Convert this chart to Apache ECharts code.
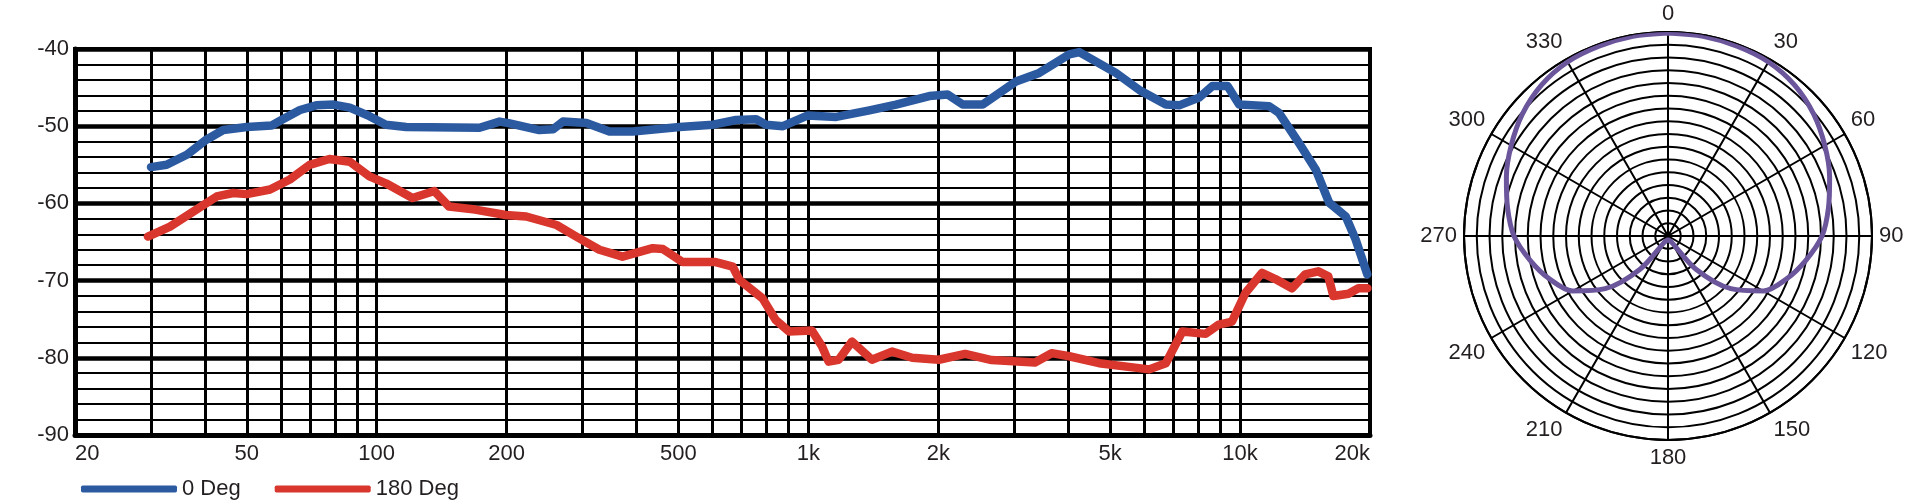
<!DOCTYPE html>
<html><head><meta charset="utf-8">
<script src="https://cdn.jsdelivr.net/npm/echarts@6/dist/echarts.min.js"></script>
<style>html,body{margin:0;padding:0;background:#fff}#c{width:1920px;height:504px}</style>
</head><body><div id="c"></div>
<script>
// ---- data ----
const freq0 = [30, 32.6, 36.3, 40.3, 44.1, 50, 57.1, 60.6, 66.4, 72.4, 79.4, 86.6, 96.2, 105, 117, 173, 192.6, 202, 238, 256, 270, 306, 346, 392, 503, 601, 680, 757, 798, 873, 997, 1160, 1385, 1596, 1906, 2102, 2278, 2534, 3026, 3426, 4021, 4242, 5155, 5840, 6731, 7226, 8038, 8630, 9354, 9951, 11675, 12316, 13700, 14970, 16080, 17575, 18530, 19715];
const db0 = [-55.3, -55.0, -53.7, -51.75, -50.5, -50.1, -49.9, -49.1, -47.9, -47.3, -47.2, -47.6, -48.7, -49.8, -50.1, -50.2, -49.4, -49.6, -50.5, -50.4, -49.4, -49.6, -50.7, -50.7, -50.1, -49.8, -49.2, -49.1, -49.8, -50.0, -48.6, -48.8, -47.95, -47.2, -46.1, -45.9, -47.2, -47.2, -44.2, -43.1, -40.7, -40.4, -43.1, -45.3, -47.2, -47.3, -46.3, -44.8, -44.8, -47.2, -47.4, -48.3, -52.2, -55.6, -59.9, -61.7, -64.7, -69.2];
const freq180 = [29.5, 33.2, 38.2, 42.6, 46.5, 50, 56.6, 62.9, 69.9, 77.7, 86.6, 96.2, 105, 121, 136, 147, 169, 199, 222, 261, 290, 328, 371, 436, 460, 511, 610, 668, 692, 783, 840, 902, 1018, 1075, 1114, 1175, 1262, 1403, 1562, 1740, 2005, 2308, 2658, 3348, 3660, 4021, 4715, 6156, 6731, 7350, 8320, 8930, 9580, 10290, 11240, 12070, 13190, 14150, 15180, 16010, 16450, 17830, 18800, 19720];
const db180 = [-64.3, -63.0, -60.8, -59.1, -58.65, -58.8, -58.2, -56.9, -55.0, -54.25, -54.6, -56.5, -57.4, -59.3, -58.4, -60.4, -60.8, -61.5, -61.7, -62.8, -64.3, -66.0, -66.9, -65.8, -65.9, -67.6, -67.6, -68.2, -69.9, -72.3, -75.1, -76.6, -76.45, -78.5, -80.5, -80.25, -77.9, -80.25, -79.2, -80.0, -80.25, -79.5, -80.3, -80.6, -79.4, -79.8, -80.7, -81.5, -80.7, -76.6, -76.9, -75.7, -75.3, -71.6, -69.0, -69.8, -71.0, -69.2, -68.8, -69.45, -72.0, -71.7, -71.0, -71.0];
const xLabelFreqs = [20, 50, 100, 200, 500, 1000, 2000, 5000, 10000, 20000];
const xLabelTexts = ['20', '50', '100', '200', '500', '1k', '2k', '5k', '10k', '20k'];
const xGridFreqs = [30, 40, 50, 60, 70, 80, 90, 100, 200, 300, 400, 500, 600, 700, 800, 900, 1000, 2000, 3000, 4000, 5000, 6000, 7000, 8000, 9000, 10000];
const polarAngles = [0, 10, 20, 30, 40, 50, 60, 70, 80, 90, 100, 110, 120, 130, 140, 150, 160, 170, 180, 190, 200, 210, 220, 230, 240, 250, 260, 270, 280, 290, 300, 310, 320, 330, 340, 350, 360];
const polarRadii = [15.92, 15.9, 15.84, 15.76, 15.45, 14.9, 14.2, 13.49, 12.78, 12.08, 10.98, 9.88, 8.63, 6.43, 3.37, 0.55, 0.39, 0.31, 0.31, 0.31, 0.39, 0.55, 3.37, 6.43, 8.63, 9.88, 10.98, 12.08, 12.78, 13.49, 14.2, 14.9, 15.45, 15.76, 15.84, 15.9, 15.92];
const seriesNames = ['0 Deg', '180 Deg'];

// ---- chart ----
const lg = Math.log10;
const FONT = "'Liberation Sans', Arial, sans-serif";
const TXT = '#231f20';
const chart = echarts.init(document.getElementById('c'), null, {renderer: 'canvas'});
const toPts = (fs, ds) => fs.map((f, i) => [lg(f), ds[i]]);
chart.setOption({
  animation: false,
  backgroundColor: '#fff',
  grid: {left: 75, right: 550, top: 49, bottom: 69, show: true, borderColor: '#000', borderWidth: 4, backgroundColor: 'transparent'},
  legend: {
    left: 76, top: 473, itemWidth: 96, itemHeight: 7, itemGap: 34, icon: 'roundRect',
    data: seriesNames,
    textStyle: {fontFamily: FONT, fontSize: 22, color: TXT}
  },
  xAxis: [{
    type: 'value', min: lg(20), max: lg(20000),
    axisLine: {show: true, lineStyle: {color: '#000', width: 5}},
    axisTick: {show: false, customValues: xGridFreqs.map(lg)},
    splitLine: {show: true, lineStyle: {color: '#000', width: 3}},
    axisLabel: {
      customValues: xLabelFreqs.map(lg),
      alignMinLabel: 'left', alignMaxLabel: 'right',
      margin: 8, fontFamily: FONT, fontSize: 22, color: TXT,
      formatter: v => { const i = xLabelFreqs.findIndex(f => Math.abs(lg(f) - v) < 1e-6); return i >= 0 ? xLabelTexts[i] : ''; }
    }
  }],
  yAxis: [{
    type: 'value', position: 'left', min: -90, max: -40, interval: 2,
    axisLine: {show: false}, axisTick: {show: false}, axisLabel: {show: false},
    splitLine: {show: true, lineStyle: {color: '#000', width: 2}}
  }, {
    type: 'value', position: 'left', min: -90, max: -40, interval: 10,
    axisLine: {show: true, lineStyle: {color: '#000', width: 5}}, axisTick: {show: false},
    axisLabel: {margin: 6, fontFamily: FONT, fontSize: 22, color: TXT},
    splitLine: {show: true, lineStyle: {color: '#000', width: 4.5}}
  }],
  polar: {center: [1668, 236], radius: 204},
  angleAxis: {
    type: 'value', min: 0, max: 360, interval: 30, startAngle: 90, clockwise: true,
    axisLine: {show: true, lineStyle: {color: '#000', width: 2}},
    axisTick: {show: false},
    splitLine: {show: true, lineStyle: {color: '#000', width: 2}},
    axisLabel: {margin: 7, fontFamily: FONT, fontSize: 22, color: TXT}
  },
  radiusAxis: {
    type: 'value', min: 0, max: 16, interval: 1,
    axisLine: {show: false}, axisTick: {show: false}, axisLabel: {show: false},
    splitLine: {show: true, lineStyle: {color: '#000', width: 2}}
  },
  series: [{
    name: seriesNames[0], type: 'line', xAxisIndex: 0, yAxisIndex: 0, z: 5,
    data: toPts(freq0, db0), showSymbol: false, symbol: 'none',
    color: '#2c5aa0', lineStyle: {color: '#2c5aa0', width: 8.5, cap: 'round', join: 'round'}
  }, {
    name: seriesNames[1], type: 'line', xAxisIndex: 0, yAxisIndex: 0, z: 5,
    data: toPts(freq180, db180), showSymbol: false, symbol: 'none',
    color: '#d9362d', lineStyle: {color: '#d9362d', width: 8.5, cap: 'round', join: 'round'}
  }, {
    name: 'polar', type: 'line', coordinateSystem: 'polar', z: 5,
    data: polarAngles.map((a, i) => [polarRadii[i], a]), showSymbol: false, symbol: 'none', smooth: 0.3,
    color: '#6b559b', lineStyle: {color: '#6b559b', width: 5}
  }]
});
</script></body></html>
